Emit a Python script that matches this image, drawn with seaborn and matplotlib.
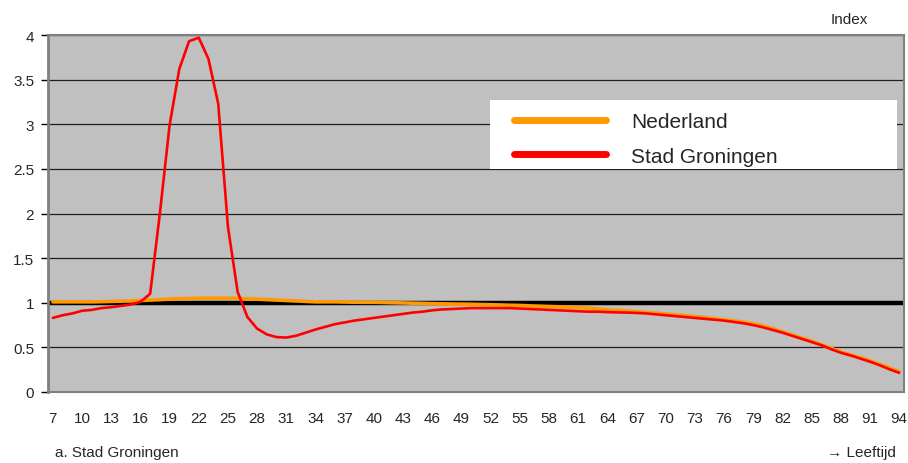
import numpy as np
import pandas as pd
import matplotlib
matplotlib.use("Agg")
import matplotlib.pyplot as plt
import seaborn as sns
from matplotlib.lines import Line2D
from matplotlib.patches import Rectangle

# Leeftijd 7 t/m 94
ages = list(range(7, 95))

# Index Nederland
nederland = [
    1.01, 1.01, 1.01, 1.01, 1.01, 1.012, 1.015, 1.018, 1.02, 1.025,   # 7-16
    1.03, 1.035, 1.04, 1.045, 1.048, 1.05, 1.05, 1.05, 1.05, 1.05,     # 17-26
    1.045, 1.04, 1.035, 1.03, 1.025, 1.02, 1.015, 1.01, 1.01, 1.01,    # 27-36
    1.008, 1.006, 1.005, 1.005, 1.003, 1.0, 0.998, 0.995, 0.993, 0.99, # 37-46
    0.988, 0.986, 0.985, 0.983, 0.98, 0.978, 0.975, 0.972, 0.97, 0.965,# 47-56
    0.962, 0.958, 0.955, 0.95, 0.945, 0.94, 0.93, 0.92, 0.915, 0.908,  # 57-66
    0.90, 0.892, 0.884, 0.875, 0.865, 0.855, 0.845, 0.835, 0.822, 0.81,# 67-76
    0.797, 0.782, 0.765, 0.74, 0.71, 0.675, 0.64, 0.605, 0.57, 0.53,   # 77-86
    0.49, 0.45, 0.415, 0.385, 0.35, 0.31, 0.27, 0.23                   # 87-94
]

# Index Stad Groningen
groningen = [
    0.83, 0.86, 0.88, 0.91, 0.92, 0.94, 0.95, 0.965, 0.98, 1.01,       # 7-16
    1.10, 2.00, 2.99, 3.62, 3.93, 3.97, 3.73, 3.23, 1.85, 1.12,        # 17-26
    0.84, 0.71, 0.645, 0.615, 0.61, 0.63, 0.665, 0.70, 0.73, 0.76,     # 27-36
    0.78, 0.80, 0.815, 0.83, 0.845, 0.86, 0.875, 0.89, 0.90, 0.915,    # 37-46
    0.925, 0.93, 0.935, 0.94, 0.94, 0.94, 0.94, 0.94, 0.935, 0.93,     # 47-56
    0.925, 0.92, 0.915, 0.91, 0.905, 0.90, 0.90, 0.895, 0.892, 0.89,   # 57-66
    0.886, 0.88, 0.87, 0.86, 0.85, 0.84, 0.83, 0.82, 0.81, 0.80,       # 67-76
    0.785, 0.77, 0.75, 0.725, 0.695, 0.665, 0.63, 0.595, 0.56, 0.525,  # 77-86
    0.48, 0.44, 0.41, 0.375, 0.34, 0.30, 0.255, 0.215                  # 87-94
]

BASIS = 1.0
xtick_labels = list(range(7, 95, 3))
ytick_values = [0, 0.5, 1, 1.5, 2, 2.5, 3, 3.5, 4]

df = pd.DataFrame({
    "Leeftijd": ages * 2,
    "Index": nederland + groningen,
    "Reeks": ["Nederland"] * len(ages) + ["Stad Groningen"] * len(ages),
})

sns.set_style("white")
plt.rcParams["font.family"] = ["Liberation Sans", "DejaVu Sans"]

fig = plt.figure(figsize=(9.08, 4.64), dpi=100)
ax = fig.add_axes([48 / 908, 1 - 393 / 464, 856 / 908, 357 / 464])
ax.set_facecolor("#C0C0C0")

# gridlines
for y in ytick_values[1:]:
    ax.axhline(y, color="#202020", lw=0.9, zorder=1)
ax.axhline(BASIS, color="black", lw=3.2, zorder=2)

colors = {"Nederland": "#FF9900", "Stad Groningen": "#FF0000"}
sns.lineplot(data=df, x="Leeftijd", y="Index", hue="Reeks", palette=colors,
             size="Reeks", sizes={"Nederland": 2.6, "Stad Groningen": 1.9},
             legend=False, ax=ax, zorder=3)

ax.set_xlim(6.5, 94.5)
ax.set_ylim(0, 4)
ax.set_xticks(xtick_labels)
ax.set_xticklabels([str(v) for v in xtick_labels], fontsize=11)
ax.set_yticks(ytick_values)
ax.set_yticklabels(["0", "0.5", "1", "1.5", "2", "2.5", "3", "3.5", "4"], fontsize=11)
ax.tick_params(axis="x", length=0, pad=14)
ax.tick_params(axis="y", length=5, width=1, color="black", pad=5, left=True)
ax.set_xlabel("")
ax.set_ylabel("")
for side in ["left", "bottom", "top", "right"]:
    ax.spines[side].set_color("#808080")
    ax.spines[side].set_linewidth(1.5)
ax.spines["left"].set_linewidth(2)

# legend box
ax.add_patch(Rectangle((0.516, 0.625), 0.476, 0.193, transform=ax.transAxes,
                       facecolor="white", edgecolor="none", zorder=4))
handles = [Line2D([], [], color=colors["Nederland"], lw=5),
           Line2D([], [], color=colors["Stad Groningen"], lw=5)]
leg = ax.legend(handles, ["Nederland", "Stad Groningen"], frameon=False,
                loc="upper left", bbox_to_anchor=(0.535, 0.808),
                fontsize=15, handlelength=4.4, handletextpad=1.2,
                labelspacing=0.75, borderaxespad=0)
leg.set_zorder(5)

fig.text(868 / 908, 1 - 20 / 464, "Index", fontsize=11, ha="right", va="center")
fig.text(55 / 908, 1 - 453 / 464, "a. Stad Groningen", fontsize=11, ha="left", va="center")
fig.text(896 / 908, 1 - 453 / 464, "\u2192 Leeftijd", fontsize=11, ha="right", va="center")

fig.savefig("out.png", dpi=100)
